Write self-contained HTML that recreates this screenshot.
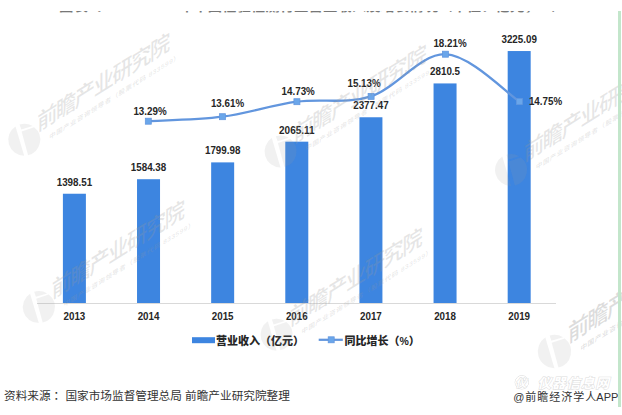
<!DOCTYPE html>
<html><head><meta charset="utf-8"><title>检验检测行业营业收入</title>
<style>html,body{margin:0;padding:0;background:#fff;}body{width:622px;height:415px;position:relative;overflow:hidden;}</style>
</head><body>
<svg width="622" height="415" viewBox="0 0 622 415" style="position:absolute;left:0;top:0">
<clipPath id="tc"><rect x="0" y="11" width="622" height="1.6"/></clipPath>
<g clip-path="url(#tc)"><text x="59" y="11.2" font-family="'Liberation Sans','Noto Sans CJK SC',sans-serif" font-weight="bold" font-size="14.4" fill="#777">图表5：2013-2019年中国检验检测行业营业收入及增长情况（单位：亿元，%）</text></g>
<line x1="37" y1="303.5" x2="556" y2="303.5" stroke="#d9d9d9" stroke-width="1"/>
<rect x="62.90" y="193.74" width="23.0" height="109.26" fill="#3d85e0"/>
<rect x="137.03" y="179.22" width="23.0" height="123.78" fill="#3d85e0"/>
<rect x="211.16" y="162.38" width="23.0" height="140.62" fill="#3d85e0"/>
<rect x="285.29" y="141.67" width="23.0" height="161.33" fill="#3d85e0"/>
<rect x="359.42" y="117.26" width="23.0" height="185.74" fill="#3d85e0"/>
<rect x="433.55" y="83.43" width="23.0" height="219.57" fill="#3d85e0"/>
<rect x="507.68" y="51.04" width="23.0" height="251.96" fill="#3d85e0"/>
<path d="M148.30,121.20 C160.67,120.45 197.73,119.95 222.50,116.70 C247.27,113.45 272.13,105.08 296.90,101.70 C321.67,98.32 346.35,104.32 371.10,96.40 C395.85,88.48 420.68,53.33 445.40,54.20 C470.12,55.07 507.07,93.70 519.40,101.60" fill="none" stroke="#6296de" stroke-width="2.35" stroke-linejoin="round"/>
<rect x="145.30" y="118.20" width="6" height="6" fill="#6aa6ea" stroke="#6296de" stroke-width="0.75"/>
<rect x="219.50" y="113.70" width="6" height="6" fill="#6aa6ea" stroke="#6296de" stroke-width="0.75"/>
<rect x="293.90" y="98.70" width="6" height="6" fill="#6aa6ea" stroke="#6296de" stroke-width="0.75"/>
<rect x="368.10" y="93.40" width="6" height="6" fill="#6aa6ea" stroke="#6296de" stroke-width="0.75"/>
<rect x="442.40" y="51.20" width="6" height="6" fill="#6aa6ea" stroke="#6296de" stroke-width="0.75"/>
<rect x="516.40" y="98.60" width="6" height="6" fill="#6aa6ea" stroke="#6296de" stroke-width="0.75"/>
<text x="74.40" y="185.74" font-family="Liberation Sans, sans-serif" font-weight="bold" font-size="10.8" fill="#262626" text-anchor="middle" textLength="35.42" lengthAdjust="spacingAndGlyphs">1398.51</text>
<text x="148.53" y="171.22" font-family="Liberation Sans, sans-serif" font-weight="bold" font-size="10.8" fill="#262626" text-anchor="middle" textLength="35.42" lengthAdjust="spacingAndGlyphs">1584.38</text>
<text x="222.66" y="154.38" font-family="Liberation Sans, sans-serif" font-weight="bold" font-size="10.8" fill="#262626" text-anchor="middle" textLength="35.42" lengthAdjust="spacingAndGlyphs">1799.98</text>
<text x="296.79" y="133.67" font-family="Liberation Sans, sans-serif" font-weight="bold" font-size="10.8" fill="#262626" text-anchor="middle" textLength="35.42" lengthAdjust="spacingAndGlyphs">2065.11</text>
<text x="370.92" y="109.26" font-family="Liberation Sans, sans-serif" font-weight="bold" font-size="10.8" fill="#262626" text-anchor="middle" textLength="35.42" lengthAdjust="spacingAndGlyphs">2377.47</text>
<text x="445.05" y="75.43" font-family="Liberation Sans, sans-serif" font-weight="bold" font-size="10.8" fill="#262626" text-anchor="middle" textLength="29.97" lengthAdjust="spacingAndGlyphs">2810.5</text>
<text x="519.18" y="43.04" font-family="Liberation Sans, sans-serif" font-weight="bold" font-size="10.8" fill="#262626" text-anchor="middle" textLength="35.42" lengthAdjust="spacingAndGlyphs">3225.09</text>
<text x="150.00" y="114.60" font-family="Liberation Sans, sans-serif" font-weight="bold" font-size="10.8" fill="#262626" text-anchor="middle" textLength="33.23" lengthAdjust="spacingAndGlyphs">13.29%</text>
<text x="227.50" y="106.70" font-family="Liberation Sans, sans-serif" font-weight="bold" font-size="10.8" fill="#262626" text-anchor="middle" textLength="33.23" lengthAdjust="spacingAndGlyphs">13.61%</text>
<text x="298.20" y="94.50" font-family="Liberation Sans, sans-serif" font-weight="bold" font-size="10.8" fill="#262626" text-anchor="middle" textLength="33.23" lengthAdjust="spacingAndGlyphs">14.73%</text>
<text x="364.10" y="86.50" font-family="Liberation Sans, sans-serif" font-weight="bold" font-size="10.8" fill="#262626" text-anchor="middle" textLength="33.23" lengthAdjust="spacingAndGlyphs">15.13%</text>
<text x="450.00" y="46.90" font-family="Liberation Sans, sans-serif" font-weight="bold" font-size="10.8" fill="#262626" text-anchor="middle" textLength="33.23" lengthAdjust="spacingAndGlyphs">18.21%</text>
<text x="545.50" y="104.80" font-family="Liberation Sans, sans-serif" font-weight="bold" font-size="10.8" fill="#262626" text-anchor="middle" textLength="33.23" lengthAdjust="spacingAndGlyphs">14.75%</text>
<text x="74.40" y="320.00" font-family="Liberation Sans, sans-serif" font-weight="bold" font-size="10.8" fill="#262626" text-anchor="middle" textLength="21.80" lengthAdjust="spacingAndGlyphs">2013</text>
<text x="148.53" y="320.00" font-family="Liberation Sans, sans-serif" font-weight="bold" font-size="10.8" fill="#262626" text-anchor="middle" textLength="21.80" lengthAdjust="spacingAndGlyphs">2014</text>
<text x="222.66" y="320.00" font-family="Liberation Sans, sans-serif" font-weight="bold" font-size="10.8" fill="#262626" text-anchor="middle" textLength="21.80" lengthAdjust="spacingAndGlyphs">2015</text>
<text x="296.79" y="320.00" font-family="Liberation Sans, sans-serif" font-weight="bold" font-size="10.8" fill="#262626" text-anchor="middle" textLength="21.80" lengthAdjust="spacingAndGlyphs">2016</text>
<text x="370.92" y="320.00" font-family="Liberation Sans, sans-serif" font-weight="bold" font-size="10.8" fill="#262626" text-anchor="middle" textLength="21.80" lengthAdjust="spacingAndGlyphs">2017</text>
<text x="445.05" y="320.00" font-family="Liberation Sans, sans-serif" font-weight="bold" font-size="10.8" fill="#262626" text-anchor="middle" textLength="21.80" lengthAdjust="spacingAndGlyphs">2018</text>
<text x="519.18" y="320.00" font-family="Liberation Sans, sans-serif" font-weight="bold" font-size="10.8" fill="#262626" text-anchor="middle" textLength="21.80" lengthAdjust="spacingAndGlyphs">2019</text>
<rect x="192" y="337.2" width="23" height="6" fill="#3d85e0"/>
<text x="216" y="344.5" font-family="'Liberation Sans','Noto Sans CJK SC',sans-serif" font-weight="900" font-size="11" fill="#262626">营业收入（亿元）</text>
<line x1="318.7" y1="339.8" x2="342.8" y2="339.8" stroke="#6296de" stroke-width="2.25"/>
<rect x="328.2" y="336.8" width="6" height="6" fill="#6aa6ea" stroke="#6296de" stroke-width="0.75"/>
<text x="344.5" y="344.5" font-family="'Liberation Sans','Noto Sans CJK SC',sans-serif" font-weight="900" font-size="11" fill="#262626">同比增长（<tspan font-size="10.5">%</tspan>）</text>
<g transform="translate(24.2,139.8) scale(1)"><g fill="#9a9a9a" fill-opacity="0.14"><path d="M-8.7,-13.4 A16,16 0 0 0 0,16 Z"/><path d="M-4.6,-15.3 A16,16 0 0 1 8.3,-13.7 L-2.9,-10.3 Z"/><path d="M9.9,-12.6 A16,16 0 0 1 3.9,15.5 L-2.6,-8.4 Z"/></g><g transform="skewY(-32)"><text transform="scale(0.88,1)" x="14.77" y="0.3" font-family="'Liberation Sans','Noto Sans CJK SC',sans-serif" font-weight="500" font-size="23" fill="#9a9a9a" fill-opacity="0.25" letter-spacing="-1.6">前瞻产业研究院</text><text x="25" y="15.5" font-family="'Liberation Sans','Noto Sans CJK SC',sans-serif" font-weight="500" font-size="6.4" fill="#9a9a9a" fill-opacity="0.25" letter-spacing="0.55">中国产业咨询领导者（股票代码 833599）</text></g></g>
<g transform="translate(38.8,307.1) scale(1)"><g fill="#9a9a9a" fill-opacity="0.14"><path d="M-8.7,-13.4 A16,16 0 0 0 0,16 Z"/><path d="M-4.6,-15.3 A16,16 0 0 1 8.3,-13.7 L-2.9,-10.3 Z"/><path d="M9.9,-12.6 A16,16 0 0 1 3.9,15.5 L-2.6,-8.4 Z"/></g><g transform="skewY(-32)"><text transform="scale(0.88,1)" x="14.77" y="0.3" font-family="'Liberation Sans','Noto Sans CJK SC',sans-serif" font-weight="500" font-size="23" fill="#9a9a9a" fill-opacity="0.25" letter-spacing="-1.6">前瞻产业研究院</text><text x="25" y="15.5" font-family="'Liberation Sans','Noto Sans CJK SC',sans-serif" font-weight="500" font-size="6.4" fill="#9a9a9a" fill-opacity="0.25" letter-spacing="0.55">中国产业咨询领导者（股票代码 833599）</text></g></g>
<g transform="translate(280.5,151.5) scale(1)"><g fill="#9a9a9a" fill-opacity="0.14"><path d="M-8.7,-13.4 A16,16 0 0 0 0,16 Z"/><path d="M-4.6,-15.3 A16,16 0 0 1 8.3,-13.7 L-2.9,-10.3 Z"/><path d="M9.9,-12.6 A16,16 0 0 1 3.9,15.5 L-2.6,-8.4 Z"/></g><g transform="skewY(-32)"><text transform="scale(0.88,1)" x="14.77" y="0.3" font-family="'Liberation Sans','Noto Sans CJK SC',sans-serif" font-weight="500" font-size="23" fill="#9a9a9a" fill-opacity="0.25" letter-spacing="-1.6">前瞻产业研究院</text><text x="25" y="15.5" font-family="'Liberation Sans','Noto Sans CJK SC',sans-serif" font-weight="500" font-size="6.4" fill="#9a9a9a" fill-opacity="0.25" letter-spacing="0.55">中国产业咨询领导者（股票代码 833599）</text></g></g>
<g transform="translate(276.5,334.7) scale(1)"><g fill="#9a9a9a" fill-opacity="0.14"><path d="M-8.7,-13.4 A16,16 0 0 0 0,16 Z"/><path d="M-4.6,-15.3 A16,16 0 0 1 8.3,-13.7 L-2.9,-10.3 Z"/><path d="M9.9,-12.6 A16,16 0 0 1 3.9,15.5 L-2.6,-8.4 Z"/></g><g transform="skewY(-32)"><text transform="scale(0.88,1)" x="14.77" y="0.3" font-family="'Liberation Sans','Noto Sans CJK SC',sans-serif" font-weight="500" font-size="23" fill="#9a9a9a" fill-opacity="0.25" letter-spacing="-1.6">前瞻产业研究院</text><text x="25" y="15.5" font-family="'Liberation Sans','Noto Sans CJK SC',sans-serif" font-weight="500" font-size="6.4" fill="#9a9a9a" fill-opacity="0.25" letter-spacing="0.55">中国产业咨询领导者（股票代码 833599）</text></g></g>
<g transform="translate(511,170) scale(1)"><g fill="#9a9a9a" fill-opacity="0.14"><path d="M-8.7,-13.4 A16,16 0 0 0 0,16 Z"/><path d="M-4.6,-15.3 A16,16 0 0 1 8.3,-13.7 L-2.9,-10.3 Z"/><path d="M9.9,-12.6 A16,16 0 0 1 3.9,15.5 L-2.6,-8.4 Z"/></g><g transform="skewY(-32)"><text transform="scale(0.88,1)" x="14.77" y="0.3" font-family="'Liberation Sans','Noto Sans CJK SC',sans-serif" font-weight="500" font-size="23" fill="#9a9a9a" fill-opacity="0.25" letter-spacing="-1.6">前瞻产业研究院</text><text x="25" y="15.5" font-family="'Liberation Sans','Noto Sans CJK SC',sans-serif" font-weight="500" font-size="6.4" fill="#9a9a9a" fill-opacity="0.25" letter-spacing="0.55">中国产业咨询领导者（股票代码 833599）</text></g></g>
<g transform="translate(554.4,351.5) scale(1.04)"><g fill="#9a9a9a" fill-opacity="0.14"><path d="M-8.7,-13.4 A16,16 0 0 0 0,16 Z"/><path d="M-4.6,-15.3 A16,16 0 0 1 8.3,-13.7 L-2.9,-10.3 Z"/><path d="M9.9,-12.6 A16,16 0 0 1 3.9,15.5 L-2.6,-8.4 Z"/></g><g transform="skewY(-32)"><text transform="scale(0.88,1)" x="14.77" y="0.3" font-family="'Liberation Sans','Noto Sans CJK SC',sans-serif" font-weight="500" font-size="23" fill="#9a9a9a" fill-opacity="0.34" letter-spacing="-1.6">前瞻产业研究院</text><text x="25" y="15.5" font-family="'Liberation Sans','Noto Sans CJK SC',sans-serif" font-weight="500" font-size="6.4" fill="#9a9a9a" fill-opacity="0.34" letter-spacing="0.55">中国产业咨询领导者（股票代码 833599）</text></g></g>
<g fill="#fff" stroke="#dcdcdc" stroke-width="1" paint-order="stroke">
<circle cx="521.8" cy="382.3" r="6.6" fill="#fff"/>
<text x="515.5" y="387" font-family="'Liberation Sans','Noto Sans CJK SC',sans-serif" font-style="italic" font-weight="bold" font-size="11">仪</text>
<text x="537.5" y="388.3" font-family="'Liberation Sans','Noto Sans CJK SC',sans-serif" font-style="italic" font-weight="bold" font-size="13.6" letter-spacing="0.9">仪器信息网</text>
</g>
<text x="4" y="399.5" font-family="'Liberation Sans','Noto Sans CJK SC',sans-serif" font-size="11.65" fill="#333">资料来源<tspan font-family="'Liberation Sans','Noto Sans CJK TC',sans-serif">：</tspan> 国家市场监督管理总局 前瞻产业研究院整理</text>
<text x="513.2" y="400.5" font-family="'Liberation Sans','Noto Sans CJK SC',sans-serif" font-size="11" fill="#333"><tspan letter-spacing="1.0">@前瞻经济学</tspan>人APP</text>
<rect x="618" y="11" width="3" height="396" fill="#c3e6cb"/>
</svg>
</body></html>
